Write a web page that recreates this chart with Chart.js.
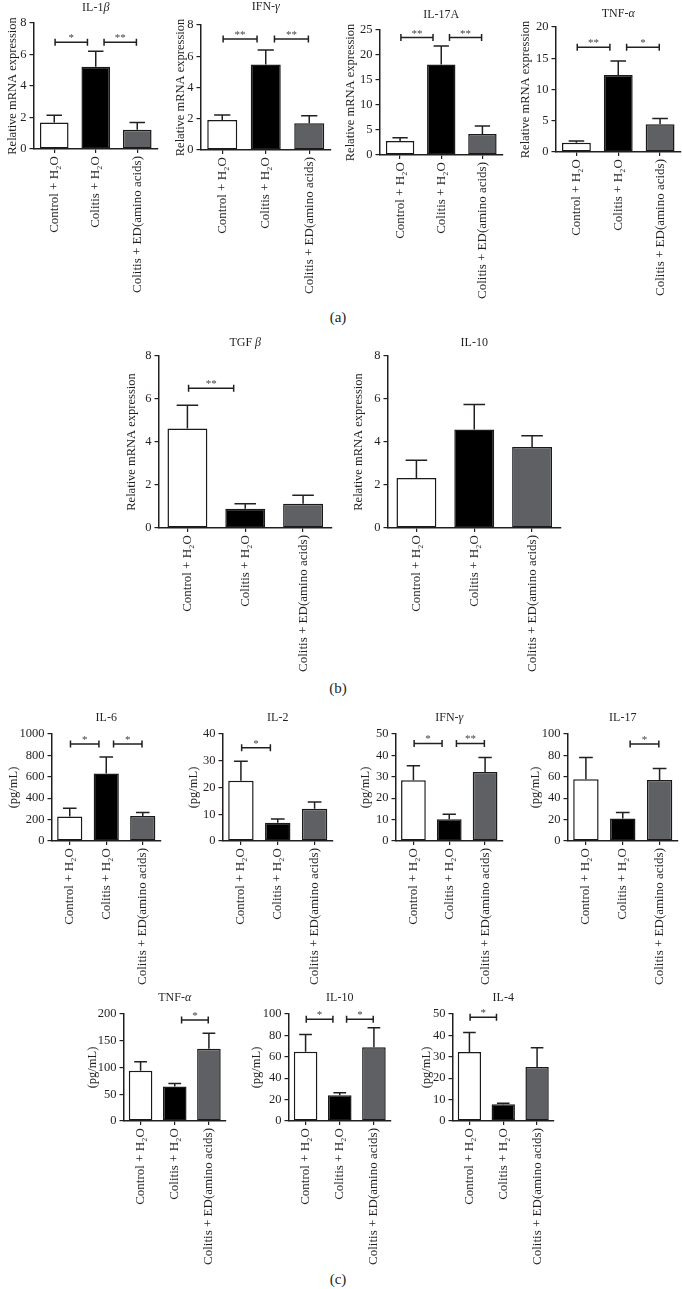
<!DOCTYPE html>
<html><head><meta charset="utf-8">
<script src="https://cdn.jsdelivr.net/npm/chart.js@4.4.1/dist/chart.umd.min.js"></script>
<style>
html,body{margin:0;padding:0;background:#fff;width:682px;height:1289px;overflow:hidden;position:relative;}
canvas{position:absolute;}
.panel{position:absolute;font-family:"Liberation Serif","DejaVu Serif",serif;font-size:15px;color:#231f20;transform:translate(-50%,-50%);white-space:nowrap;}
</style></head><body>
<div class="panel" style="left:338px;top:317px">(a)</div>
<div class="panel" style="left:338px;top:688px">(b)</div>
<div class="panel" style="left:338px;top:1279px">(c)</div>
<script>
// ---------- DATA ----------
const categories = ['Control + H₂O', 'Colitis + H₂O', 'Colitis + ED(amino acids)'];
const barColors = ['#ffffff', '#000000', '#5f6063'];

// (a) relative mRNA expression
const il1bMean = [1.68, 5.23, 1.23];   const il1bErr = [0.47, 0.97, 0.45];
const il1bTicks = [0, 2, 4, 6, 8];     const il1bSig = [[0, 1, '*', 6.77], [1, 2, '**', 6.77]];
const ifngAMean = [1.92, 5.48, 1.71];  const ifngAErr = [0.32, 0.92, 0.49];
const ifngATicks = [0, 2, 4, 6, 8];    const ifngASig = [[0, 1, '**', 7.1], [1, 2, '**', 7.1]];
const il17aMean = [2.8, 18.1, 4.2];    const il17aErr = [0.67, 3.7, 1.6];
const il17aTicks = [0, 5, 10, 15, 20, 25]; const il17aSig = [[0, 1, '**', 23.5], [1, 2, '**', 23.5]];
const tnfaAMean = [1.5, 12.33, 4.45];  const tnfaAErr = [0.27, 2.25, 0.91];
const tnfaATicks = [0, 5, 10, 15, 20]; const tnfaASig = [[0, 1, '**', 16.75], [1, 2, '*', 16.75]];

// (b) relative mRNA expression
const tgfbMean = [4.63, 0.9, 1.13];    const tgfbErr = [1.08, 0.23, 0.39];
const tgfbTicks = [0, 2, 4, 6, 8];     const tgfbSig = [[0, 1, '**', 6.5]];
const il10BMean = [2.33, 4.58, 3.77];  const il10BErr = [0.82, 1.17, 0.52];
const il10BTicks = [0, 2, 4, 6, 8];    const il10BSig = [];

// (c) protein, pg/mL
const il6Mean = [228, 631, 234];       const il6Err = [78, 153, 32];
const il6Ticks = [0, 200, 400, 600, 800, 1000]; const il6Sig = [[0, 1, '*', 906], [1, 2, '*', 906]];
const il2Mean = [22.5, 6.8, 12.1];     const il2Err = [7.3, 1.4, 2.5];
const il2Ticks = [0, 10, 20, 30, 40];  const il2Sig = [[0, 1, '*', 34.9]];
const ifngCMean = [28.4, 10.2, 32.2];  const ifngCErr = [6.8, 2.3, 6.8];
const ifngCTicks = [0, 10, 20, 30, 40, 50]; const ifngCSig = [[0, 1, '*', 45.6], [1, 2, '**', 45.6]];
const il17CMean = [57.8, 21, 56.9];    const il17CErr = [20.2, 5.6, 10.9];
const il17CTicks = [0, 20, 40, 60, 80, 100]; const il17CSig = [[1, 2, '*', 90.6]];
const tnfaCMean = [93.8, 64.4, 135];   const tnfaCErr = [16.8, 5.6, 29];
const tnfaCTicks = [0, 50, 100, 150, 200]; const tnfaCSig = [[1, 2, '*', 188.8]];
const il10CMean = [64.7, 24, 69];      const il10CErr = [16.2, 2.3, 18.2];
const il10CTicks = [0, 20, 40, 60, 80, 100]; const il10CSig = [[0, 1, '*', 95], [1, 2, '*', 95]];
const il4Mean = [32.3, 7.8, 25.2];     const il4Err = [9.1, 0.5, 9.0];
const il4Ticks = [0, 10, 20, 30, 40, 50]; const il4Sig = [[0, 1, '*', 48.5]];

// ---------- LAYOUT ----------
const FONT = '"Liberation Serif", "DejaVu Serif", serif';
const INK = '#231f20';
Chart.defaults.font.family = FONT;
Chart.defaults.color = INK;

const RNA = 'Relative mRNA expression', PG = '(pg/mL)';
const specs = [
  {title:[['IL-1',0],['β',1]], yTitle:RNA, mean:il1bMean, err:il1bErr, ticks:il1bTicks, sig:il1bSig, L:33, R:157, T:22.5, B:148, titleY:7, yTitleX:12},
  {title:[['IFN-',0],['γ',1]], yTitle:RNA, mean:ifngAMean, err:ifngAErr, ticks:ifngATicks, sig:ifngASig, L:200, R:330, T:25, B:150, titleY:7, yTitleX:180},
  {title:[['IL-17A',0]], yTitle:RNA, mean:il17aMean, err:il17aErr, ticks:il17aTicks, sig:il17aSig, L:379, R:502, T:30, B:155, titleY:15, yTitleX:350},
  {title:[['TNF-',0],['α',1]], yTitle:RNA, mean:tnfaAMean, err:tnfaAErr, ticks:tnfaATicks, sig:tnfaASig, L:555, R:680, T:27, B:152, titleY:14, yTitleX:525},
  {title:[['TGF ',0],['β',1]], yTitle:RNA, mean:tgfbMean, err:tgfbErr, ticks:tgfbTicks, sig:tgfbSig, L:158, R:331, T:356, B:528, titleY:343, yTitleX:131},
  {title:[['IL-10',0]], yTitle:RNA, mean:il10BMean, err:il10BErr, ticks:il10BTicks, sig:il10BSig, L:387, R:560, T:356, B:528, titleY:343, yTitleX:358},
  {title:[['IL-6',0]], yTitle:PG, mean:il6Mean, err:il6Err, ticks:il6Ticks, sig:il6Sig, L:51, R:160, T:734, B:841, titleY:718, yTitleX:13},
  {title:[['IL-2',0]], yTitle:PG, mean:il2Mean, err:il2Err, ticks:il2Ticks, sig:il2Sig, L:222, R:332, T:734, B:841, titleY:718, yTitleX:193},
  {title:[['IFN-',0],['γ',1]], yTitle:PG, mean:ifngCMean, err:ifngCErr, ticks:ifngCTicks, sig:ifngCSig, L:395, R:502, T:734, B:841, titleY:718, yTitleX:365},
  {title:[['IL-17',0]], yTitle:PG, mean:il17CMean, err:il17CErr, ticks:il17CTicks, sig:il17CSig, L:567, R:677, T:734, B:841, titleY:718, yTitleX:535},
  {title:[['TNF-',0],['α',1]], yTitle:PG, mean:tnfaCMean, err:tnfaCErr, ticks:tnfaCTicks, sig:tnfaCSig, L:123, R:225, T:1014, B:1121, titleY:998, yTitleX:92},
  {title:[['IL-10',0]], yTitle:PG, mean:il10CMean, err:il10CErr, ticks:il10CTicks, sig:il10CSig, L:288, R:390, T:1014, B:1121, titleY:998, yTitleX:256},
  {title:[['IL-4',0]], yTitle:PG, mean:il4Mean, err:il4Err, ticks:il4Ticks, sig:il4Sig, L:452, R:553, T:1014, B:1121, titleY:998, yTitleX:426}
];

function makeChart(s) {
  const padTop = 30, padR = 3, xH = 150;
  const yTitleSize = 12.5, lh = yTitleSize * 1.2;
  const canvasLeft = s.yTitleX - lh / 2;
  const yW = s.L - canvasLeft;
  const w = Math.round(yW + (s.R - s.L) + padR);
  const h = Math.round(padTop + (s.B - s.T) + xH);
  const cv = document.createElement('canvas');
  cv.width = w; cv.height = h;
  cv.style.left = canvasLeft + 'px'; cv.style.top = (s.T - padTop) + 'px';
  cv.style.width = w + 'px'; cv.style.height = h + 'px';
  document.body.appendChild(cv);

  const extras = {
    id: 'extras',
    afterDatasetsDraw(chart) {
      const ctx = chart.ctx, meta = chart.getDatasetMeta(0), ys = chart.scales.y;
      const sp = meta.data[1].x - meta.data[0].x;
      ctx.save();
      ctx.strokeStyle = INK; ctx.lineWidth = 1.5; ctx.lineCap = 'butt';
      // error bars (upper only)
      meta.data.forEach((bar, i) => {
        const y0 = ys.getPixelForValue(s.mean[i]);
        const y1 = ys.getPixelForValue(s.mean[i] + s.err[i]);
        const hw = bar.width * 0.27;
        ctx.beginPath();
        ctx.moveTo(bar.x, y0); ctx.lineTo(bar.x, y1);
        ctx.moveTo(bar.x - hw, y1); ctx.lineTo(bar.x + hw, y1);
        ctx.stroke();
      });
      // significance brackets
      s.sig.forEach(([a, b, label, level]) => {
        let x1 = meta.data[a].x, x2 = meta.data[b].x;
        if (a === 0) { x1 += 0.02 * sp; x2 -= 0.2 * sp; }
        else { x1 += 0.2 * sp; x2 -= 0.02 * sp; }
        const y = ys.getPixelForValue(level);
        ctx.beginPath();
        ctx.moveTo(x1, y); ctx.lineTo(x2, y);
        ctx.moveTo(x1, y - 3.5); ctx.lineTo(x1, y + 3.5);
        ctx.moveTo(x2, y - 3.5); ctx.lineTo(x2, y + 3.5);
        ctx.stroke();
        ctx.fillStyle = '#444';
        ctx.font = '11px ' + FONT;
        ctx.textAlign = 'center'; ctx.textBaseline = 'alphabetic';
        ctx.fillText(label, (x1 + x2) / 2, y - 1);
      });
      // chart title (with italic greek letters)
      const ca = chart.chartArea;
      const cx = (ca.left + ca.right) / 2, ty = ca.top - (s.T - s.titleY);
      ctx.textBaseline = 'middle'; ctx.textAlign = 'left'; ctx.fillStyle = INK;
      const fonts = ['12px ' + FONT, 'italic 12px ' + FONT];
      let total = 0;
      s.title.forEach(([t, it]) => { ctx.font = fonts[it]; total += ctx.measureText(t).width; });
      let x = cx - total / 2;
      s.title.forEach(([t, it]) => { ctx.font = fonts[it]; ctx.fillText(t, x, ty); x += ctx.measureText(t).width; });
      ctx.restore();
    }
  };

  const gridOpts = {display: true, drawOnChartArea: false, drawTicks: true, tickLength: 4, color: INK, lineWidth: 1.2};
  new Chart(cv, {
    type: 'bar',
    data: {
      labels: categories,
      datasets: [{
        data: s.mean, backgroundColor: barColors, borderColor: '#1a1a1a', borderWidth: 1.5,
        borderSkipped: false, barPercentage: 0.69, categoryPercentage: 1
      }]
    },
    options: {
      responsive: false, animation: false, devicePixelRatio: 1,
      layout: {padding: {top: padTop, right: padR, left: 0, bottom: 0}},
      plugins: {legend: {display: false}, tooltip: {enabled: false}, title: {display: false}},
      scales: {
        x: {
          type: 'category', offset: true,
          grid: Object.assign({}, gridOpts, {offset: false}),
          border: {display: true, color: INK, width: 1.5},
          ticks: {autoSkip: false, minRotation: 90, maxRotation: 90, padding: 3, font: {size: 13}, color: INK},
          afterFit: sc => { sc.height = xH; }
        },
        y: {
          min: s.ticks[0], max: s.ticks[s.ticks.length - 1],
          afterBuildTicks: sc => { sc.ticks = s.ticks.map(v => ({value: v})); },
          grid: gridOpts,
          border: {display: true, color: INK, width: 1.5},
          ticks: {padding: 3, font: {size: 12.5}, color: INK, callback: v => String(v)},
          title: {display: true, text: s.yTitle, font: {size: yTitleSize}, padding: 0, color: INK},
          afterFit: sc => { sc.width = yW; }
        }
      }
    },
    plugins: [extras]
  });
}
specs.forEach(makeChart);
</script>
</body></html>
